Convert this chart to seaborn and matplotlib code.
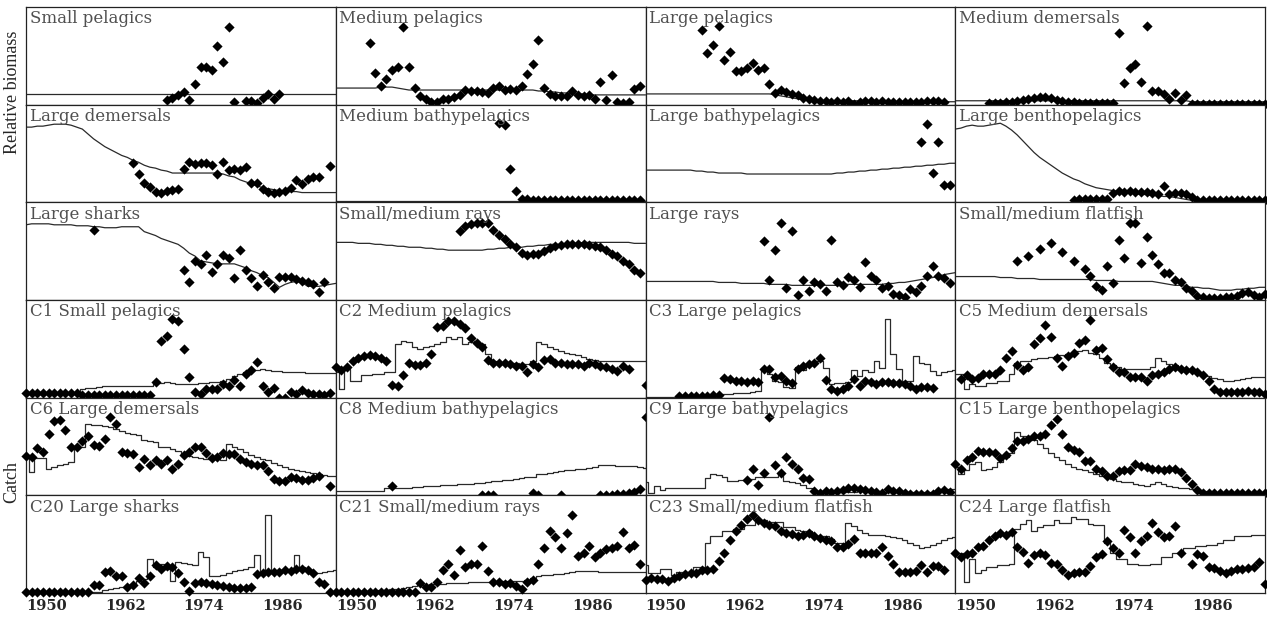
import numpy as np
import pandas as pd
import matplotlib
matplotlib.use("Agg")
import matplotlib.pyplot as plt
import seaborn as sns

# time axis: 56 steps, labelled every 14 steps
n_steps = 56
tick_steps = [0, 14, 28, 42]
tick_labels = ["1950", "1962", "1974", "1986"]

# ---------------- relative biomass ----------------
sp_start = 25
sp_obs = [0.05, 0.07, 0.10, 0.13, 0.05, 0.21, 0.39, 0.39, 0.35, 0.60, 0.44, 0.80, 0.03, None,
          0.04, 0.04, 0.02, 0.07, 0.11, 0.06, 0.11]
sp_model = [0.11, 0.11, 0.11, 0.11, 0.11, 0.11, 0.11, 0.11, 0.11, 0.11, 0.11, 0.11, 0.11, 0.11,
            0.11, 0.11, 0.11, 0.11, 0.11, 0.11, 0.11, 0.11, 0.11, 0.11, 0.11, 0.11, 0.11, 0.11,
            0.11, 0.11, 0.11, 0.11, 0.11, 0.11, 0.11, 0.11, 0.11, 0.11, 0.11, 0.11, 0.11, 0.11,
            0.11, 0.11, 0.11, 0.11, 0.11, 0.11, 0.11, 0.11, 0.11, 0.11, 0.11, 0.11, 0.11, 0.11]

mp_start = 6
mp_obs = [0.63, 0.32, 0.19, 0.26, 0.36, 0.39, 0.80, 0.39, 0.17, 0.09, 0.06, 0.03, 0.03, 0.06,
          0.06, 0.08, 0.10, 0.15, 0.14, 0.14, 0.13, 0.12, 0.17, 0.19, 0.15, 0.16, 0.15, 0.19,
          0.31, 0.42, 0.66, 0.17, 0.11, 0.09, 0.09, 0.09, 0.14, 0.10, 0.09, 0.10, 0.06, 0.23,
          0.05, 0.30, 0.03, 0.02, 0.03, 0.16, 0.19]
mp_model = [0.17, 0.17, 0.17, 0.17, 0.17, 0.17, 0.17, 0.17, 0.18, 0.18, 0.18, 0.17, 0.16, 0.15,
            0.15, 0.15, 0.15, 0.15, 0.15, 0.15, 0.15, 0.15, 0.15, 0.15, 0.15, 0.15, 0.15, 0.15,
            0.15, 0.15, 0.15, 0.15, 0.15, 0.15, 0.15, 0.15, 0.14, 0.14, 0.13, 0.13, 0.12, 0.12,
            0.11, 0.11, 0.11, 0.10, 0.10, 0.10, 0.10, 0.10, 0.10, 0.10, 0.10, 0.10, 0.10, 0.10]

lp_start = 10
lp_obs = [0.76, 0.53, 0.61, 0.81, 0.46, 0.54, 0.34, 0.34, 0.38, 0.43, 0.36, 0.38, 0.21, 0.12,
          0.15, 0.13, 0.11, 0.10, 0.07, 0.06, 0.05, 0.04, 0.04, 0.03, 0.04, 0.03, 0.04, 0.01,
          0.03, 0.04, 0.04, 0.03, 0.04, 0.03, 0.03, 0.03, 0.03, 0.03, 0.03, 0.03, 0.04, 0.04,
          0.04, 0.03]
lp_model = [0.11, 0.11, 0.11, 0.11, 0.11, 0.11, 0.11, 0.11, 0.11, 0.11, 0.11, 0.11, 0.11, 0.11,
            0.11, 0.11, 0.11, 0.11, 0.11, 0.11, 0.11, 0.11, 0.11, 0.10, 0.09, 0.08, 0.07, 0.06,
            0.05, 0.04, 0.04, 0.04, 0.04, 0.04, 0.04, 0.04, 0.04, 0.04, 0.04, 0.04, 0.03, 0.03,
            0.03, 0.03, 0.03, 0.03, 0.03, 0.03, 0.03, 0.03, 0.03, 0.03, 0.03, 0.03, 0.03, 0.03]

md_start = 6
md_obs = [0.02, 0.02, 0.02, 0.03, 0.03, 0.04, 0.05, 0.06, 0.07, 0.08, 0.08, 0.07, 0.05, 0.04,
          0.03, 0.03, 0.02, 0.02, 0.02, 0.02, 0.02, 0.02, 0.02, 0.73, 0.22, 0.38, 0.42, 0.23,
          0.81, 0.14, 0.14, 0.11, 0.06, 0.12, 0.05, 0.10, 0.01, 0.01, 0.01, 0.01, 0.01, 0.01,
          0.01, 0.01, 0.01, 0.01, 0.01, 0.01, 0.01, 0.01]
md_model = [0.04, 0.04, 0.04, 0.04, 0.04, 0.04, 0.04, 0.04, 0.04, 0.04, 0.04, 0.04, 0.04, 0.04,
            0.04, 0.04, 0.04, 0.04, 0.04, 0.04, 0.04, 0.04, 0.04, 0.04, 0.04, 0.04, 0.04, 0.04,
            0.04, 0.04, 0.04, 0.04, 0.04, 0.04, 0.04, 0.04, 0.04, 0.04, 0.04, 0.04, 0.04, 0.04,
            0.03, 0.03, 0.03, 0.03, 0.03, 0.03, 0.03, 0.03, 0.03, 0.03, 0.03, 0.03, 0.03, 0.03]

ld_start = 19
ld_obs = [0.40, 0.29, 0.20, 0.16, 0.11, 0.10, 0.12, 0.13, 0.14, 0.34, 0.41, 0.39, 0.40, 0.40,
          0.38, 0.29, 0.41, 0.33, 0.34, 0.33, 0.36, 0.20, 0.20, 0.14, 0.11, 0.10, 0.11, 0.12,
          0.15, 0.23, 0.19, 0.24, 0.26, 0.26, None, 0.37]
ld_model = [0.77, 0.77, 0.78, 0.78, 0.79, 0.80, 0.80, 0.80, 0.79, 0.77, 0.75, 0.70, 0.65, 0.61,
            0.57, 0.54, 0.51, 0.48, 0.46, 0.43, 0.41, 0.38, 0.36, 0.35, 0.33, 0.32, 0.30, 0.30,
            0.30, 0.30, 0.30, 0.30, 0.30, 0.30, 0.30, 0.29, 0.27, 0.26, 0.23, 0.21, 0.19, 0.17,
            0.15, 0.14, 0.13, 0.12, 0.12, 0.11, 0.11, 0.10, 0.10, 0.10, 0.10, 0.10, 0.10, 0.10]

mb_start = 29
mb_obs = [0.81, 0.79, 0.34, 0.12, 0.03, 0.03, 0.02, 0.02, 0.02, 0.02, 0.02, 0.02, 0.02, 0.02,
          0.02, 0.02, 0.02, 0.02, 0.02, 0.02, 0.02, 0.02, 0.02, 0.02, 0.02, 0.02]
mb_model = [0.01, 0.01, 0.01, 0.01, 0.01, 0.01, 0.01, 0.01, 0.01, 0.01, 0.01, 0.01, 0.01, 0.01,
            0.01, 0.01, 0.01, 0.01, 0.01, 0.01, 0.01, 0.01, 0.01, 0.01, 0.01, 0.01, 0.01, 0.01,
            0.01, 0.01, 0.01, 0.01, 0.01, 0.01, 0.01, 0.01, 0.01, 0.01, 0.01, 0.01, 0.01, 0.01,
            0.01, 0.01, 0.01, 0.01, 0.01, 0.01, 0.01, 0.01, 0.01, 0.01, 0.01, 0.01, 0.01, 0.01]

lb_start = 49
lb_obs = [0.62, 0.80, 0.30, 0.62, 0.18, 0.18]
lb_model = [0.33, 0.33, 0.33, 0.33, 0.33, 0.33, 0.33, 0.33, 0.33, 0.32, 0.32, 0.31, 0.31, 0.30,
            0.30, 0.30, 0.30, 0.30, 0.29, 0.29, 0.29, 0.29, 0.29, 0.29, 0.29, 0.29, 0.29, 0.29,
            0.29, 0.29, 0.29, 0.29, 0.29, 0.29, 0.30, 0.30, 0.31, 0.31, 0.32, 0.32, 0.33, 0.33,
            0.34, 0.34, 0.35, 0.35, 0.36, 0.36, 0.37, 0.37, 0.38, 0.38, 0.39, 0.39, 0.40, 0.40]

lbp_start = 21
lbp_obs = [0.02, 0.03, 0.03, 0.03, 0.03, 0.03, 0.03, 0.10, 0.12, 0.11, 0.12, 0.11, 0.11, 0.11,
           0.10, 0.09, 0.17, 0.09, 0.10, 0.10, 0.09, 0.05, 0.02, 0.02, 0.02, 0.02, 0.02, 0.02,
           0.02, 0.02, 0.02, 0.02, 0.02, 0.02, 0.02]
lbp_model = [0.75, 0.76, 0.78, 0.79, 0.78, 0.78, 0.79, 0.80, 0.81, 0.78, 0.74, 0.69, 0.63, 0.57,
             0.51, 0.46, 0.42, 0.38, 0.34, 0.30, 0.27, 0.24, 0.22, 0.19, 0.17, 0.15, 0.14, 0.13,
             0.12, 0.11, 0.10, 0.10, 0.09, 0.08, 0.08, 0.07, 0.07, 0.06, 0.06, 0.05, 0.04, 0.03,
             0.02, 0.02, 0.02, 0.02, 0.02, 0.02, 0.02, 0.02, 0.02, 0.02, 0.02, 0.02, 0.02, 0.02]

ls_start = 12
ls_obs = [0.72, None, None, None, None, None, None, None, None, None, None, None, None, None,
          None, None, 0.31, 0.18, 0.40, 0.37, 0.46, 0.29, 0.37, 0.46, 0.43, 0.23, 0.51, 0.31,
          0.23, 0.14, 0.26, 0.18, 0.12, 0.24, 0.24, 0.24, 0.22, 0.19, 0.18, 0.16, 0.08, 0.18]
ls_model = [0.77, 0.78, 0.78, 0.78, 0.78, 0.77, 0.77, 0.77, 0.77, 0.76, 0.76, 0.76, 0.75, 0.75,
            0.74, 0.74, 0.74, 0.75, 0.75, 0.75, 0.75, 0.70, 0.68, 0.66, 0.63, 0.61, 0.59, 0.57,
            0.53, 0.48, 0.45, 0.40, 0.39, 0.38, 0.37, 0.37, 0.37, 0.37, 0.35, 0.33, 0.30, 0.28,
            0.25, 0.23, 0.18, 0.13, 0.16, 0.18, 0.19, 0.18, 0.14, 0.14, 0.14, 0.15, 0.16, 0.17]

smr_start = 22
smr_obs = [0.71, 0.76, 0.78, 0.79, 0.79, 0.79, 0.72, 0.67, 0.62, 0.57, 0.54, 0.48, 0.46, 0.47,
           0.47, 0.50, 0.53, 0.55, 0.56, 0.57, 0.57, 0.57, 0.57, 0.56, 0.55, 0.54, 0.51, 0.47,
           0.45, 0.40, 0.37, 0.31, 0.28]
smr_model = [0.59, 0.59, 0.59, 0.59, 0.58, 0.58, 0.58, 0.57, 0.57, 0.56, 0.56, 0.55, 0.55, 0.54,
             0.54, 0.54, 0.53, 0.53, 0.52, 0.52, 0.51, 0.51, 0.51, 0.51, 0.51, 0.51, 0.51, 0.52,
             0.52, 0.53, 0.53, 0.54, 0.54, 0.54, 0.55, 0.55, 0.56, 0.56, 0.57, 0.57, 0.57, 0.58,
             0.58, 0.58, 0.59, 0.59, 0.59, 0.59, 0.59, 0.59, 0.59, 0.59, 0.59, 0.58, 0.58, 0.58]

lr_start = 21
lr_obs = [0.60, 0.20, 0.51, 0.79, 0.12, 0.71, 0.05, 0.20, 0.09, 0.18, 0.16, 0.09, 0.61, 0.18,
          0.15, 0.24, 0.20, 0.13, 0.39, 0.25, 0.20, 0.12, 0.14, 0.06, 0.05, 0.03, 0.11, 0.08,
          0.14, 0.25, 0.35, 0.25, 0.23, 0.17]
lr_model = [0.19, 0.19, 0.19, 0.19, 0.19, 0.19, 0.19, 0.19, 0.19, 0.19, 0.19, 0.19, 0.19, 0.18,
            0.18, 0.18, 0.18, 0.17, 0.17, 0.17, 0.17, 0.17, 0.16, 0.16, 0.16, 0.16, 0.15, 0.15,
            0.15, 0.15, 0.15, 0.15, 0.15, 0.15, 0.15, 0.16, 0.16, 0.16, 0.16, 0.16, 0.16, 0.16,
            0.16, 0.17, 0.17, 0.18, 0.18, 0.19, 0.20, 0.21, 0.22, 0.23, 0.24, 0.26, 0.27, 0.28]

smf_start = 11
smf_obs = [0.40, None, 0.45, None, 0.52, None, 0.58, None, 0.49, None, 0.40, None, 0.32, 0.25,
           0.14, 0.10, 0.35, 0.17, 0.61, 0.43, 0.79, 0.79, 0.38, 0.64, 0.46, 0.37, 0.28, 0.28,
           0.20, 0.18, 0.12, 0.09, 0.04, 0.03, 0.02, 0.02, 0.02, 0.03, 0.03, 0.04, 0.07, 0.08,
           0.05, 0.03, 0.06]
smf_model = [0.24, 0.24, 0.24, 0.24, 0.24, 0.24, 0.24, 0.24, 0.23, 0.23, 0.23, 0.22, 0.22, 0.22,
             0.22, 0.21, 0.21, 0.21, 0.21, 0.21, 0.21, 0.21, 0.21, 0.21, 0.21, 0.20, 0.20, 0.20,
             0.20, 0.19, 0.19, 0.19, 0.19, 0.19, 0.19, 0.19, 0.18, 0.17, 0.16, 0.15, 0.15, 0.14,
             0.13, 0.13, 0.12, 0.12, 0.11, 0.10, 0.10, 0.10, 0.11, 0.11, 0.12, 0.12, 0.13, 0.13]

# ---------------- catch ----------------
c1_start = 0
c1_obs = [0.05, 0.05, 0.05, 0.05, 0.05, 0.05, 0.05, 0.05, 0.05, 0.05, 0.03, 0.03, 0.03, 0.03,
          0.03, 0.03, 0.03, 0.03, 0.03, 0.03, 0.03, 0.03, 0.03, 0.16, 0.58, 0.63, 0.81, 0.79,
          0.50, 0.21, 0.06, 0.04, 0.09, 0.09, 0.09, 0.14, 0.12, 0.18, 0.12, 0.24, 0.28, 0.37,
          0.12, 0.06, 0.10, 0.00, 0.00, 0.06, 0.04, 0.08, 0.05, 0.04, 0.04, 0.03, 0.05]
c1_model = [0.04, 0.04, 0.04, 0.04, 0.04, 0.04, 0.04, 0.04, 0.04, 0.04, 0.09, 0.10, 0.10, 0.11,
            0.12, 0.12, 0.12, 0.12, 0.12, 0.12, 0.12, 0.12, 0.12, 0.14, 0.15, 0.16, 0.15, 0.14,
            0.14, 0.14, 0.14, 0.15, 0.15, 0.16, 0.16, 0.17, 0.19, 0.22, 0.24, 0.26, 0.27, 0.28,
            0.29, 0.28, 0.27, 0.27, 0.26, 0.26, 0.26, 0.26, 0.25, 0.25, 0.25, 0.25, 0.25, 0.25]

c2_start = 0
c2_obs = [0.31, 0.28, 0.31, 0.38, 0.41, 0.43, 0.44, 0.43, 0.41, 0.38, 0.13, 0.12, 0.23, 0.35,
          0.33, 0.33, 0.35, 0.45, 0.72, 0.73, 0.78, 0.78, 0.75, 0.71, 0.61, 0.56, 0.52, 0.39,
          0.36, 0.36, 0.35, 0.34, 0.32, 0.32, 0.26, 0.34, 0.31, 0.39, 0.40, 0.36, 0.35, 0.34,
          0.34, 0.34, 0.32, 0.35, 0.34, 0.32, 0.31, 0.29, 0.27, 0.32, 0.29, None, None, 0.13]
c2_model = [0.26, 0.09, 0.29, 0.17, 0.17, 0.23, 0.23, 0.24, 0.24, 0.26, 0.26, 0.55, 0.58, 0.57,
            0.52, 0.50, 0.52, 0.53, 0.55, 0.57, 0.62, 0.60, 0.62, 0.55, 0.57, 0.58, 0.55, 0.45,
            0.38, 0.36, 0.36, 0.35, 0.35, 0.34, 0.34, 0.38, 0.57, 0.55, 0.52, 0.50, 0.48, 0.46,
            0.45, 0.44, 0.42, 0.40, 0.39, 0.38, 0.38, 0.38, 0.38, 0.38, 0.38, 0.38, 0.38, 0.38]

c3_start = 6
c3_obs = [0.02, 0.02, 0.02, 0.02, 0.02, 0.02, 0.03, 0.03, 0.20, 0.19, 0.17, 0.17, 0.16, 0.17,
          0.16, 0.29, 0.29, 0.21, 0.22, 0.17, 0.15, 0.29, 0.32, 0.34, 0.36, 0.41, 0.18, 0.09,
          0.07, 0.09, 0.12, 0.19, 0.12, 0.17, 0.16, 0.14, 0.16, 0.16, 0.15, 0.15, 0.14, 0.12,
          0.09, 0.11, 0.11, 0.10]
c3_model = [0.01, 0.01, 0.01, 0.01, 0.01, 0.01, 0.01, 0.01, 0.01, 0.01, 0.01, 0.01, 0.01, 0.02,
            0.04, 0.04, 0.05, 0.05, 0.05, 0.06, 0.07, 0.30, 0.24, 0.17, 0.16, 0.11, 0.10, 0.31,
            0.28, 0.34, 0.36, 0.38, 0.30, 0.14, 0.15, 0.15, 0.16, 0.28, 0.22, 0.28, 0.26, 0.38,
            0.30, 0.81, 0.45, 0.29, 0.17, 0.17, 0.43, 0.36, 0.34, 0.27, 0.23, 0.26, 0.27, 0.28]

c5_start = 1
c5_obs = [0.19, 0.23, 0.19, 0.20, 0.24, 0.24, 0.24, 0.28, 0.41, 0.48, 0.33, 0.28, 0.31, 0.55,
          0.61, 0.74, 0.62, 0.41, 0.32, 0.43, 0.46, 0.56, 0.59, 0.80, 0.49, 0.51, 0.40, 0.31,
          0.26, 0.26, 0.21, 0.21, 0.21, 0.17, 0.23, 0.24, 0.26, 0.29, 0.31, 0.29, 0.28, 0.28,
          0.26, 0.23, 0.17, 0.09, 0.06, 0.06, 0.06, 0.06, 0.06, 0.07, 0.06, 0.06, 0.04]
c5_model = [0.24, 0.24, 0.09, 0.14, 0.12, 0.12, 0.15, 0.15, 0.17, 0.17, 0.24, 0.35, 0.38, 0.38,
            0.40, 0.41, 0.41, 0.42, 0.43, 0.44, 0.45, 0.46, 0.48, 0.49, 0.46, 0.45, 0.41, 0.36,
            0.33, 0.31, 0.29, 0.29, 0.29, 0.29, 0.29, 0.31, 0.41, 0.38, 0.34, 0.33, 0.31, 0.29,
            0.27, 0.25, 0.23, 0.22, 0.20, 0.19, 0.17, 0.17, 0.18, 0.19, 0.20, 0.21, 0.21, 0.21]

c6_start = 0
c6_obs = [0.40, 0.39, 0.48, 0.44, 0.63, 0.76, 0.77, 0.67, 0.49, 0.49, 0.56, 0.61, 0.52, 0.51,
          0.58, 0.80, 0.73, 0.44, 0.43, 0.42, 0.29, 0.37, 0.31, 0.36, 0.32, 0.36, 0.27, 0.32,
          0.41, 0.44, 0.50, 0.49, 0.43, 0.38, 0.39, 0.43, 0.42, 0.42, 0.37, 0.34, 0.32, 0.31,
          0.31, 0.25, 0.17, 0.15, 0.15, 0.19, 0.18, 0.16, 0.16, 0.18, 0.20, None, 0.10]
c6_model = [0.38, 0.24, 0.38, 0.38, 0.27, 0.29, 0.31, 0.32, 0.34, 0.49, 0.49, 0.73, 0.72, 0.72,
            0.71, 0.70, 0.68, 0.66, 0.64, 0.63, 0.62, 0.57, 0.56, 0.55, 0.50, 0.49, 0.47, 0.45,
            0.41, 0.40, 0.39, 0.38, 0.37, 0.37, 0.37, 0.36, 0.53, 0.50, 0.47, 0.44, 0.41, 0.39,
            0.37, 0.36, 0.33, 0.31, 0.29, 0.27, 0.26, 0.25, 0.24, 0.23, 0.22, 0.21, 0.20, 0.20]

c8_start = 10
c8_obs = [0.10, None, None, None, None, None, None, None, None, None, None, None, None, None,
          None, None, 0.00, 0.00, 0.00, None, None, None, None, None, None, 0.02, 0.00, None,
          None, None, 0.00, None, None, None, None, None, None, 0.00, 0.00, 0.00, 0.01, 0.01,
          0.02, 0.03, 0.06, 0.80]
c8_model = [0.04, 0.04, 0.04, 0.04, 0.04, 0.04, 0.04, 0.04, 0.04, 0.07, 0.07, 0.08, 0.08, 0.08,
            0.09, 0.09, 0.10, 0.10, 0.10, 0.11, 0.11, 0.11, 0.12, 0.12, 0.12, 0.13, 0.13, 0.14,
            0.15, 0.15, 0.16, 0.16, 0.17, 0.18, 0.19, 0.19, 0.22, 0.22, 0.23, 0.24, 0.25, 0.26,
            0.26, 0.27, 0.27, 0.28, 0.29, 0.31, 0.31, 0.31, 0.30, 0.30, 0.30, 0.30, 0.29, 0.28]

c9_start = 18
c9_obs = [0.16, 0.27, 0.11, 0.23, 0.80, 0.31, 0.23, 0.39, 0.32, 0.27, 0.18, 0.17, 0.04, 0.02,
          0.04, 0.03, 0.04, 0.05, 0.07, 0.07, 0.06, 0.05, 0.04, 0.03, 0.02, 0.06, 0.04, 0.04,
          0.02, 0.01, 0.01, 0.01, 0.01, 0.01, 0.04, 0.05, 0.03]
c9_model = [0.14, 0.02, 0.10, 0.05, 0.08, 0.08, 0.08, 0.08, 0.08, 0.08, 0.08, 0.18, 0.22, 0.21,
            0.19, 0.15, 0.15, 0.16, 0.17, 0.17, 0.19, 0.19, 0.19, 0.19, 0.24, 0.15, 0.14, 0.13,
            0.11, 0.07, 0.05, 0.03, 0.03, 0.03, 0.03, 0.03, 0.03, 0.03, 0.04, 0.04, 0.04, 0.03,
            0.03, 0.03, 0.03, 0.03, 0.03, 0.03, 0.03, 0.03, 0.03, 0.03, 0.06, 0.06, 0.06, 0.06]

c15_start = 0
c15_obs = [0.32, 0.27, 0.36, 0.39, 0.45, 0.44, 0.44, 0.43, 0.38, 0.41, 0.48, 0.56, 0.56, 0.58,
           0.61, 0.61, 0.63, 0.72, 0.78, 0.63, 0.50, 0.46, 0.44, 0.35, 0.35, 0.27, 0.25, 0.20,
           0.20, 0.25, 0.26, 0.26, 0.32, 0.30, 0.29, 0.27, 0.27, 0.26, 0.27, 0.27, 0.24, 0.18,
           0.12, 0.05, 0.02, 0.02, 0.02, 0.02, 0.02, 0.02, 0.02, 0.02, 0.02, 0.02, 0.02, 0.02]
c15_model = [0.29, 0.22, 0.26, 0.32, 0.34, 0.26, 0.27, 0.29, 0.34, 0.39, 0.43, 0.65, 0.61, 0.59,
             0.57, 0.53, 0.48, 0.43, 0.39, 0.36, 0.32, 0.29, 0.27, 0.26, 0.24, 0.22, 0.20, 0.19,
             0.17, 0.15, 0.14, 0.14, 0.12, 0.11, 0.10, 0.12, 0.14, 0.12, 0.10, 0.09, 0.08, 0.07,
             0.06, 0.05, 0.04, 0.03, 0.02, 0.02, 0.02, 0.02, 0.02, 0.02, 0.02, 0.02, 0.02, 0.02]

c20_start = 0
c20_obs = [0.01, 0.01, 0.01, 0.01, 0.01, 0.01, 0.01, 0.01, 0.01, 0.01, 0.01, 0.01, 0.08, 0.08,
           0.21, 0.23, 0.17, 0.17, 0.06, 0.08, 0.15, 0.10, 0.17, 0.29, 0.25, 0.28, 0.27, 0.20,
           0.11, 0.02, 0.10, 0.11, 0.10, 0.09, 0.08, 0.07, 0.06, 0.05, 0.05, 0.05, 0.06, 0.19,
           0.20, 0.22, 0.22, 0.22, 0.24, 0.23, 0.25, 0.25, 0.24, 0.20, 0.11, 0.09, 0.01]
c20_model = [0.01, 0.01, 0.01, 0.01, 0.01, 0.01, 0.01, 0.01, 0.01, 0.01, 0.01, 0.01, 0.01, 0.01,
             0.03, 0.04, 0.05, 0.06, 0.08, 0.09, 0.12, 0.14, 0.35, 0.27, 0.30, 0.25, 0.12, 0.32,
             0.31, 0.30, 0.29, 0.42, 0.37, 0.17, 0.17, 0.18, 0.20, 0.23, 0.24, 0.25, 0.27, 0.39,
             0.20, 0.80, 0.20, 0.24, 0.24, 0.24, 0.39, 0.27, 0.23, 0.19, 0.20, 0.22, 0.23, 0.24]

c21_start = 0
c21_obs = [0.01, 0.01, 0.01, 0.01, 0.01, 0.01, 0.01, 0.01, 0.01, 0.01, 0.01, 0.01, 0.01, 0.01,
           0.01, 0.10, 0.06, 0.06, 0.11, 0.24, 0.30, 0.18, 0.44, 0.27, 0.30, 0.30, 0.48, 0.23,
           0.11, 0.11, 0.09, 0.10, 0.07, 0.04, 0.11, 0.13, 0.30, 0.46, 0.63, 0.57, 0.46, 0.61,
           0.80, 0.38, 0.41, 0.48, 0.37, 0.41, 0.45, 0.46, 0.48, 0.62, 0.46, 0.49, 0.30]
c21_model = [0.00, 0.005, 0.01, 0.01, 0.015, 0.02, 0.02, 0.025, 0.03, 0.035, 0.04, 0.045, 0.05,
             0.06, 0.07, 0.08, 0.085, 0.09, 0.09, 0.095, 0.10, 0.10, 0.10, 0.10, 0.11, 0.11, 0.11,
             0.11, 0.11, 0.11, 0.12, 0.12, 0.12, 0.12, 0.13, 0.15, 0.17, 0.18, 0.18, 0.19, 0.19,
             0.20, 0.22, 0.23, 0.23, 0.23, 0.23, 0.22, 0.22, 0.22, 0.22, 0.22, 0.22, 0.22, 0.21,
             0.21]

c23_start = 0
c23_obs = [0.13, 0.15, 0.14, 0.14, 0.12, 0.15, 0.17, 0.19, 0.20, 0.20, 0.24, 0.24, 0.25, 0.33,
           0.41, 0.54, 0.63, 0.70, 0.76, 0.80, 0.75, 0.72, 0.70, 0.69, 0.63, 0.61, 0.60, 0.58,
           0.59, 0.61, 0.58, 0.56, 0.54, 0.53, 0.47, 0.47, 0.50, 0.55, 0.41, 0.41, 0.41, 0.41,
           0.47, 0.38, 0.30, 0.21, 0.21, 0.22, 0.23, 0.29, 0.21, 0.28, 0.28, 0.24]
c23_model = [0.29, 0.20, 0.20, 0.25, 0.25, 0.18, 0.22, 0.22, 0.22, 0.27, 0.27, 0.51, 0.58, 0.58,
             0.63, 0.63, 0.66, 0.66, 0.70, 0.70, 0.75, 0.75, 0.73, 0.73, 0.73, 0.68, 0.68, 0.65,
             0.63, 0.63, 0.58, 0.58, 0.58, 0.55, 0.51, 0.51, 0.72, 0.69, 0.64, 0.61, 0.59, 0.59,
             0.59, 0.58, 0.57, 0.56, 0.54, 0.51, 0.49, 0.46, 0.47, 0.49, 0.51, 0.54, 0.56, 0.57]

c24_start = 0
c24_obs = [0.41, 0.37, 0.40, 0.41, 0.47, 0.48, 0.54, 0.58, 0.61, 0.59, 0.62, 0.47, 0.42, 0.31,
           0.39, 0.41, 0.39, 0.31, 0.30, 0.24, 0.18, 0.20, 0.21, 0.22, 0.28, 0.37, 0.40, 0.53,
           0.46, 0.41, 0.65, 0.57, 0.41, 0.53, 0.58, 0.72, 0.62, 0.57, 0.58, 0.69, 0.41, None,
           0.30, 0.40, 0.38, 0.27, 0.26, 0.23, 0.20, 0.23, 0.25, 0.25, 0.26, 0.27, 0.32, 0.09]
c24_model = [0.41, 0.41, 0.11, 0.35, 0.20, 0.24, 0.27, 0.27, 0.29, 0.29, 0.30, 0.66, 0.71, 0.75,
             0.63, 0.68, 0.70, 0.70, 0.75, 0.72, 0.72, 0.78, 0.76, 0.76, 0.71, 0.70, 0.70, 0.51,
             0.41, 0.35, 0.35, 0.30, 0.30, 0.29, 0.29, 0.30, 0.30, 0.37, 0.37, 0.41, 0.41, 0.46,
             0.46, 0.48, 0.48, 0.49, 0.49, 0.51, 0.54, 0.54, 0.58, 0.58, 0.58, 0.59, 0.59, 0.59]

# panel table: title, observed start step, observed values, model values, step-style line
panels = [
    ("Small pelagics", sp_start, sp_obs, sp_model, False),
    ("Medium pelagics", mp_start, mp_obs, mp_model, False),
    ("Large pelagics", lp_start, lp_obs, lp_model, False),
    ("Medium demersals", md_start, md_obs, md_model, False),
    ("Large demersals", ld_start, ld_obs, ld_model, False),
    ("Medium bathypelagics", mb_start, mb_obs, mb_model, False),
    ("Large bathypelagics", lb_start, lb_obs, lb_model, False),
    ("Large benthopelagics", lbp_start, lbp_obs, lbp_model, False),
    ("Large sharks", ls_start, ls_obs, ls_model, False),
    ("Small/medium rays", smr_start, smr_obs, smr_model, False),
    ("Large rays", lr_start, lr_obs, lr_model, False),
    ("Small/medium flatfish", smf_start, smf_obs, smf_model, False),
    ("C1 Small pelagics", c1_start, c1_obs, c1_model, True),
    ("C2 Medium pelagics", c2_start, c2_obs, c2_model, True),
    ("C3 Large pelagics", c3_start, c3_obs, c3_model, True),
    ("C5 Medium demersals", c5_start, c5_obs, c5_model, True),
    ("C6 Large demersals", c6_start, c6_obs, c6_model, True),
    ("C8 Medium bathypelagics", c8_start, c8_obs, c8_model, True),
    ("C9 Large bathypelagics", c9_start, c9_obs, c9_model, True),
    ("C15 Large benthopelagics", c15_start, c15_obs, c15_model, True),
    ("C20 Large sharks", c20_start, c20_obs, c20_model, True),
    ("C21 Small/medium rays", c21_start, c21_obs, c21_model, True),
    ("C23 Small/medium flatfish", c23_start, c23_obs, c23_model, True),
    ("C24 Large flatfish", c24_start, c24_obs, c24_model, True),
]

sns.set_style("white")
plt.rcParams["font.family"] = ["DejaVu Serif"]

fig, axes = plt.subplots(6, 4, figsize=(12.67, 6.18), dpi=100, sharex=True, sharey=True)
fig.subplots_adjust(left=26 / 1267, right=1265 / 1267, top=1 - 7 / 618,
                    bottom=1 - 593 / 618, wspace=0, hspace=0)

for ax, (title, start, obs, model, stepped) in zip(axes.flat, panels):
    obs_df = pd.DataFrame({"step": np.arange(start, start + len(obs)),
                           "value": pd.array(obs, dtype="Float64").astype(float)}).dropna()
    mod_df = pd.DataFrame({"step": np.arange(len(model)), "value": model})

    sns.lineplot(data=mod_df, x="step", y="value", ax=ax, color="#2a2a2a", lw=0.9,
                 estimator=None, drawstyle="steps-mid" if stepped else "default",
                 legend=False)
    sns.scatterplot(data=obs_df, x="step", y="value", ax=ax, marker="D", s=27,
                    color="black", linewidth=0, clip_on=False, zorder=3, legend=False)

    ax.text(0.012, 0.965, title, transform=ax.transAxes, ha="left", va="top",
            fontsize=12, color="#505050")
    ax.set_xlim(0, n_steps - 1)
    ax.set_ylim(0, 1)
    ax.set_xlabel("")
    ax.set_ylabel("")
    ax.set_yticks([])
    ax.set_xticks(tick_steps)
    ax.set_xticklabels(tick_labels, ha="left", fontweight="bold", fontsize=10.5)
    ax.tick_params(axis="x", length=0, pad=4)
    for s in ax.spines.values():
        s.set_color("#222222")
        s.set_linewidth(0.9)

fig.text(0.0095, 1 - 92 / 618, "Relative biomass", rotation=90, ha="center", va="center",
         fontsize=13, family="Liberation Serif")
fig.text(0.0095, 1 - 482 / 618, "Catch", rotation=90, ha="center", va="center",
         fontsize=13, family="Liberation Serif")

fig.savefig("out.png", dpi=100)
